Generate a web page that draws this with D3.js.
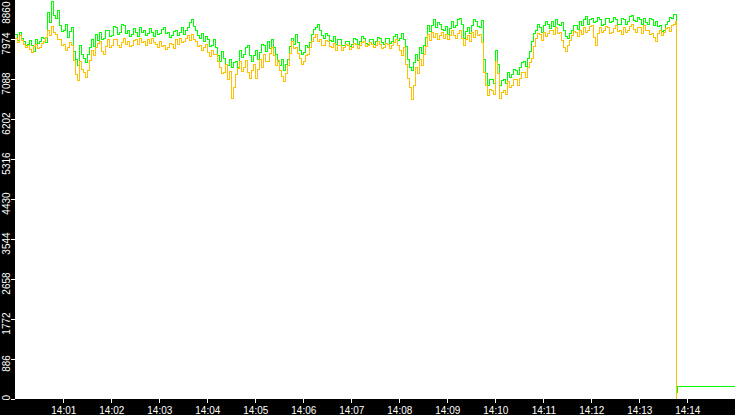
<!DOCTYPE html>
<html>
<head>
<meta charset="utf-8">
<script src="https://d3js.org/d3.v7.min.js"></script>
<style>
  body { margin: 0; background: #fff; }
  .axis text { font-family: "Liberation Sans", Arial, sans-serif; font-size: 10px; fill: #fff; }
  .axis line { stroke: #fff; }
</style>
</head>
<body>
<script>
// samples every 2.5 seconds from 14:00:00
var startTime = "14:00:00", endTime = "14:15:00", stepSec = 2.5;

var greenVals = [
  8063,7930, 8107,7975, 7908,7840, 7863,7930, 7819,7700, 7952,7880, 7908,8000, 7996,7890, 8572,8350, 8794,8500,
  8439,8600, 8284,8130, 8173,8290, 8018,8150, 8218,7700, 7509,7380, 7841,7640, 7553,7450, 7620,7790, 7952,7800,
  8063,7930, 8129,7960, 7996,8170, 8173,8020, 8041,8260, 8218,8080, 8129,8300, 8284,8100, 8173,8040, 8063,8200,
  8129,8020, 8218,8110, 8173,8060, 8085,8200, 8129,8040, 8173,8080, 8085,8190, 8218,8090, 8107,8000, 8041,8150,
  8173,8060, 8129,8230, 8063,8170, 8218,8340, 8395,8250, 8173,8050, 7996,8100, 7908,8020, 7952,7800, 7841,7960,
  7775,7600, 7465,7700, 7553,7400, 7398,7520, 7332,7450, 7465,7350, 7730,7560, 7620,7780, 7841,7600, 7465,7600,
  7730,7530, 7686,7850, 7841,7700, 7908,7760, 7952,7780, 7620,7480, 7398,7520, 7287,7420, 7509,7800, 7996,7860,
  8063,7900, 7730,7620, 7686,7820, 7775,7900, 8063,8180, 8218,8300, 8173,8060, 7996,8100, 8041,7930, 7908,8020,
  7863,7960, 7952,7840, 7819,7920, 7908,7800, 7863,7980, 7952,7860, 7908,8020, 7996,7880, 7863,7970, 7952,7850,
  7908,8010, 7996,7900, 7863,7990, 7996,7880, 7908,8040, 8063,7930, 7996,8090, 7952,7800, 7509,7350, 7287,7450,
  7620,7500, 7775,7650, 7841,8000, 8284,8150, 8284,8400, 8218,8330, 8306,8180, 8173,8260, 8063,8200, 8351,8230,
  8262,8400, 8439,8300, 7996,8150, 8218,8100, 8284,8400, 8351,8250, 8218,8380, 7509,7200, 6955,7080, 7066,6980,
  7730,7400, 6955,7050, 7066,6980, 7243,7120, 7177,7300, 7287,7180, 7332,7450, 7465,7360, 7553,7700, 7908,8100,
  8173,8300, 8218,8120, 8262,8360, 8306,8200, 8351,8260, 8395,8300, 8262,8350, 8173,8020, 7996,8100, 8173,8280,
  8262,8180, 8351,8270, 8395,8480, 8306,8400, 8439,8330, 8351,8460, 8395,8280, 8306,8420, 8439,8340, 8351,8450,
  8395,8290, 8306,8420, 8395,8300, 8351,8470, 8484,8380, 8351,8440, 8395,8300, 8439,8350, 8306,8420, 8395,8280,
  8351,8240, 8262,8150, 8173,8300, 8351,8450, 8439,8520, 8506];

var orangeVals = [
  7996,7900, 8041,7930, 7863,7780, 7819,7740, 7686,7800, 7863,7760, 7775,7870, 7908,8000, 8173,8060, 8240,8120,
  8063,7960, 7952,7830, 7863,7720, 7775,7900, 7841,7500, 7177,7050, 7465,7300, 7243,7130, 7287,7500, 7730,7600,
  7775,7880, 7908,7700, 7620,7800, 7952,7780, 7841,7960, 7952,7820, 7775,7900, 7996,7860, 7908,7800, 7841,7950,
  7952,7860, 7996,7900, 7908,7830, 7952,7870, 7996,7890, 7863,7780, 7908,7800, 7841,7740, 7775,7880, 7863,7770,
  7952,7850, 7996,7900, 7908,7990, 8041,7940, 8063,7960, 7908,7800, 7841,7730, 7775,7860, 7686,7580, 7730,7640,
  7620,7480, 7332,7200, 7243,7400, 7066,7250, 6667,6900, 7177,7320, 7465,7250, 7332,7500, 7243,7100, 7287,7400,
  7110,7300, 7509,7350, 7620,7480, 7465,7650, 7775,7600, 7398,7500, 7287,7150, 7022,7200, 7398,7650, 7908,7760,
  7775,7650, 7553,7420, 7465,7600, 7620,7780, 7908,8000, 8063,7920, 7952,7820, 7841,7950, 7908,7800, 7775,7880,
  7730,7840, 7819,7720, 7775,7860, 7841,7740, 7775,7870, 7863,7760, 7819,7900, 7908,7800, 7819,7900, 7863,7780,
  7841,7920, 7863,7770, 7775,7880, 7863,7760, 7819,7900, 7952,7820, 7730,7600, 7775,7400, 7110,6900, 6623,6950,
  7332,7200, 7509,7380, 7620,7800, 8063,7950, 8129,8000, 8085,7960, 8041,8120, 7996,8080, 7952,8060, 8173,8050,
  7996,8100, 8173,7980, 7841,7960, 8041,7920, 8107,8000, 8173,8060, 8063,7900, 7243,6950, 6733,6850, 6844,6750,
  7465,7200, 6667,6800, 6844,6750, 7022,6900, 6955,7080, 7066,6950, 7110,7230, 7243,7120, 7332,7450, 7553,7800,
  7996,8090, 8063,7950, 8129,8020, 8085,8170, 8173,8080, 8218,8100, 8129,7950, 7775,7700, 7841,7950, 8041,8130,
  8129,8030, 8173,8080, 8218,8120, 8173,8250, 8262,8000, 7819,8100, 8218,8120, 8173,8240, 8218,8100, 8129,8200,
  8262,8150, 8173,8080, 8218,8120, 8173,8250, 8306,8180, 8129,8220, 8218,8100, 8262,8170, 8173,8080, 8085,8000,
  7908,8100, 8173,8060, 8129,8200, 8218,8130, 8262,8300, 8351];

// what happens after the feed stops (seconds after 14:00:00)
var greenTailSec = [826, 827, 828, 900];
var greenTail = [4231, 155, 266, 266];
var orangeTailSec = [826];
var orangeTail = [0];

var yTicks = [0, 886, 1772, 2658, 3544, 4430, 5316, 6202, 7088, 7974, 8860];
var xTickLabels = ["14:01","14:02","14:03","14:04","14:05","14:06","14:07","14:08","14:09","14:10","14:11","14:12","14:13","14:14"];

var W = 735, H = 415, left = 15, bottom = 399;
var parse = d3.timeParse("%H:%M:%S");
var t0 = parse(startTime);

function series(vals, tailSec, tail) {
  var pts = vals.map(function (v, i) { return { t: new Date(+t0 + i * stepSec * 1000), v: v }; });
  tail.forEach(function (v, i) { pts.push({ t: d3.timeSecond.offset(t0, tailSec[i]), v: v }); });
  return pts;
}

var x = d3.scaleTime().domain([t0, parse(endTime)]).range([left + 0.3, W + 0.3]);
var y = d3.scaleLinear().domain([0, 8860]).range([bottom, -1]);

var svg = d3.select("body").append("svg")
  .attr("width", W).attr("height", H);

svg.append("defs").append("clipPath").attr("id", "plot")
  .append("rect").attr("x", left).attr("y", 0).attr("width", W - left).attr("height", bottom);

var line = d3.line()
  .x(function (d) { return x(d.t); })
  .y(function (d) { return y(d.v); })
  .curve(d3.curveStepAfter);

var g = svg.append("g").attr("clip-path", "url(#plot)");
g.append("path").datum(series(greenVals, greenTailSec, greenTail))
  .attr("d", line).attr("fill", "none").attr("stroke", "#00ff00")
  .attr("stroke-width", 1).attr("shape-rendering", "crispEdges");
g.append("path").datum(series(orangeVals, orangeTailSec, orangeTail))
  .attr("d", line).attr("fill", "none").attr("stroke", "#ffc000")
  .attr("stroke-width", 1).attr("shape-rendering", "crispEdges");

// black axis strips
svg.append("rect").attr("x", 0).attr("y", 0).attr("width", left).attr("height", H).attr("fill", "#000");
svg.append("rect").attr("x", 0).attr("y", bottom).attr("width", W).attr("height", H - bottom).attr("fill", "#000");

var yAxis = svg.append("g").attr("class", "axis")
  .attr("transform", "translate(" + left + ",0)")
  .call(d3.axisLeft(y).tickValues(yTicks).tickSize(4).tickFormat(d3.format("d")));
yAxis.select(".domain").remove();
yAxis.selectAll("line").attr("shape-rendering", "crispEdges");
yAxis.selectAll("text")
  .attr("x", null).attr("dy", null)
  .attr("text-anchor", "middle")
  .attr("transform", function (d) {
    var len = this.getComputedTextLength();
    var c = y(d) + 4;
    c = Math.max(1 + len / 2, Math.min(400 - len / 2, c));
    return "translate(-5," + (c - y(d)) + ") rotate(-90)";
  });

var xAxis = svg.append("g").attr("class", "axis")
  .attr("transform", "translate(0," + bottom + ")")
  .call(d3.axisBottom(x)
    .tickValues(xTickLabels.map(function (s) { return parse(s + ":00"); }))
    .tickSize(4)
    .tickFormat(d3.timeFormat("%H:%M")));
xAxis.select(".domain").remove();
xAxis.selectAll("line").attr("shape-rendering", "crispEdges");
xAxis.selectAll("text").attr("y", 15).attr("dy", null);
</script>
</body>
</html>
